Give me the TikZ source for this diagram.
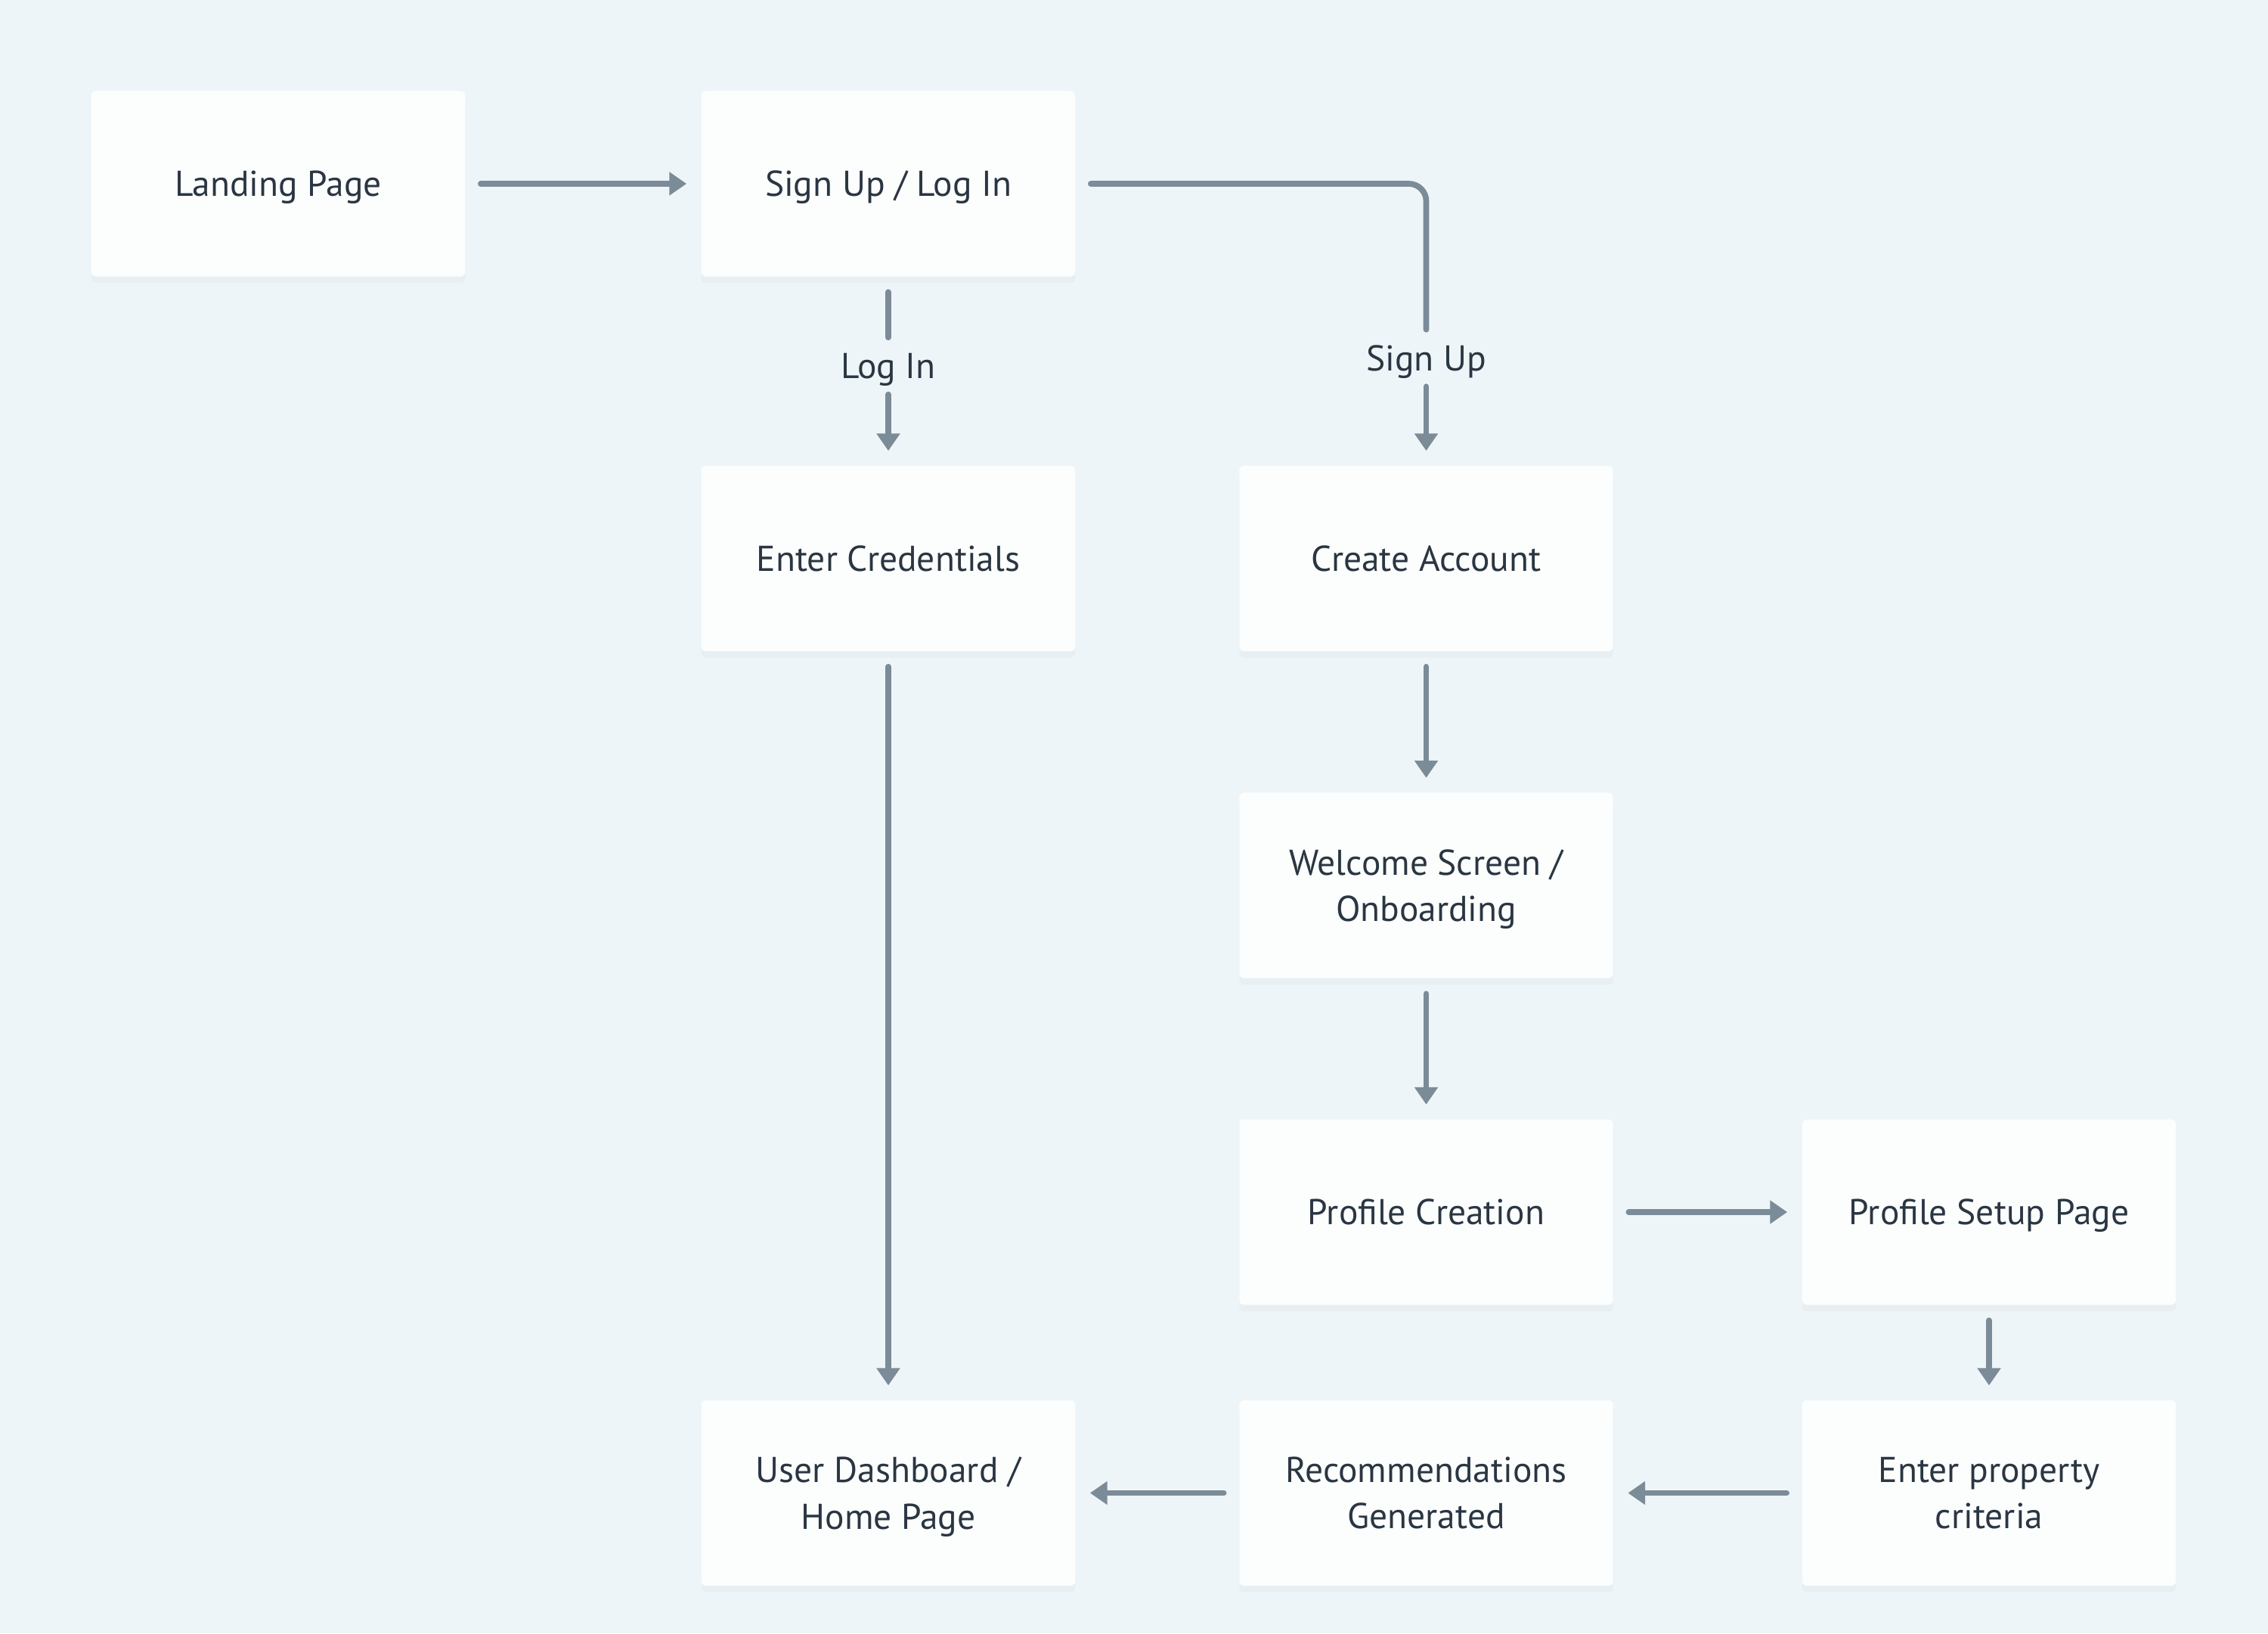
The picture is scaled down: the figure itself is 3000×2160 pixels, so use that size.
\documentclass[tikz,border=0pt]{standalone}
\usepackage{fontspec}
\setmainfont{PT Sans}
\usetikzlibrary{arrows.meta,shadows}
\definecolor{bg}{HTML}{EEF5F8}
\definecolor{boxfill}{HTML}{FCFEFE}
\definecolor{arrowc}{HTML}{7B8B97}
\definecolor{txt}{HTML}{2A3642}
\begin{document}
\begin{tikzpicture}[x=0.01cm,y=-0.01cm,
  stepbox/.style={draw=none, fill=boxfill, rounded corners=1.7pt,
    minimum width=4.94cm, minimum height=2.45cm, align=center, text=txt,
    text depth=0pt,
    font=\fontsize{13.5}{17.4}\selectfont,
    drop shadow={shadow xshift=0pt, shadow yshift=-2.5pt, opacity=0.025, fill=black}},
  lbl/.style={text=txt, font=\fontsize{13.5}{17.4}\selectfont, inner sep=0pt,
    text depth=0pt, minimum height=0.74cm},
  conn/.style={draw=arrowc, line width=2.2pt, line cap=round},
  arr/.style={conn, -{Triangle[length=6.5pt,width=8.5pt]}, shorten >=0.19cm},
]
\fill[bg] (0,0) rectangle (3000,2160);

\node[stepbox] (landing) at (368,243) {Landing Page};
\node[stepbox] (signup) at (1175,243) {Sign Up / Log In};
\node[stepbox] (cred) at (1175,738.5) {Enter Credentials};
\node[stepbox] (create) at (1886.5,738.5) {Create Account};
\node[stepbox] (welcome) at (1886.5,1171) {Welcome Screen /\\ Onboarding};
\node[stepbox] (pcreate) at (1886.5,1603) {Profile Creation};
\node[stepbox] (psetup) at (2631,1603) {Profile Setup Page};
\node[stepbox] (dash) at (1175,1974.5) {User Dashboard /\\ Home Page};
\node[stepbox] (recomm) at (1886.5,1974.5) {Recommendations\\ Generated};
\node[stepbox] (prop) at (2631,1974.5) {Enter property\\ criteria};

\node[lbl] (loginlbl) at (1175,484) {Log In};
\node[lbl] (signuplbl) at (1886.5,473.5) {Sign Up};

\draw[arr, shorten <=0.2cm] (landing) -- (signup);
\draw[conn, shorten <=0.2cm] (signup.south) -- (loginlbl.north);
\draw[arr] (loginlbl.south) -- (cred.north);
\draw[conn, rounded corners=0.23cm, shorten <=0.2cm] (signup.east) -| (signuplbl.north);
\draw[arr] (signuplbl.south) -- (create.north);
\draw[arr, shorten <=0.2cm] (cred) -- (dash);
\draw[arr, shorten <=0.2cm] (create) -- (welcome);
\draw[arr, shorten <=0.2cm] (welcome) -- (pcreate);
\draw[arr, shorten <=0.2cm] (pcreate) -- (psetup);
\draw[arr, shorten <=0.2cm] (psetup) -- (prop);
\draw[arr, shorten <=0.2cm] (prop) -- (recomm);
\draw[arr, shorten <=0.2cm] (recomm) -- (dash);
\end{tikzpicture}
\end{document}
